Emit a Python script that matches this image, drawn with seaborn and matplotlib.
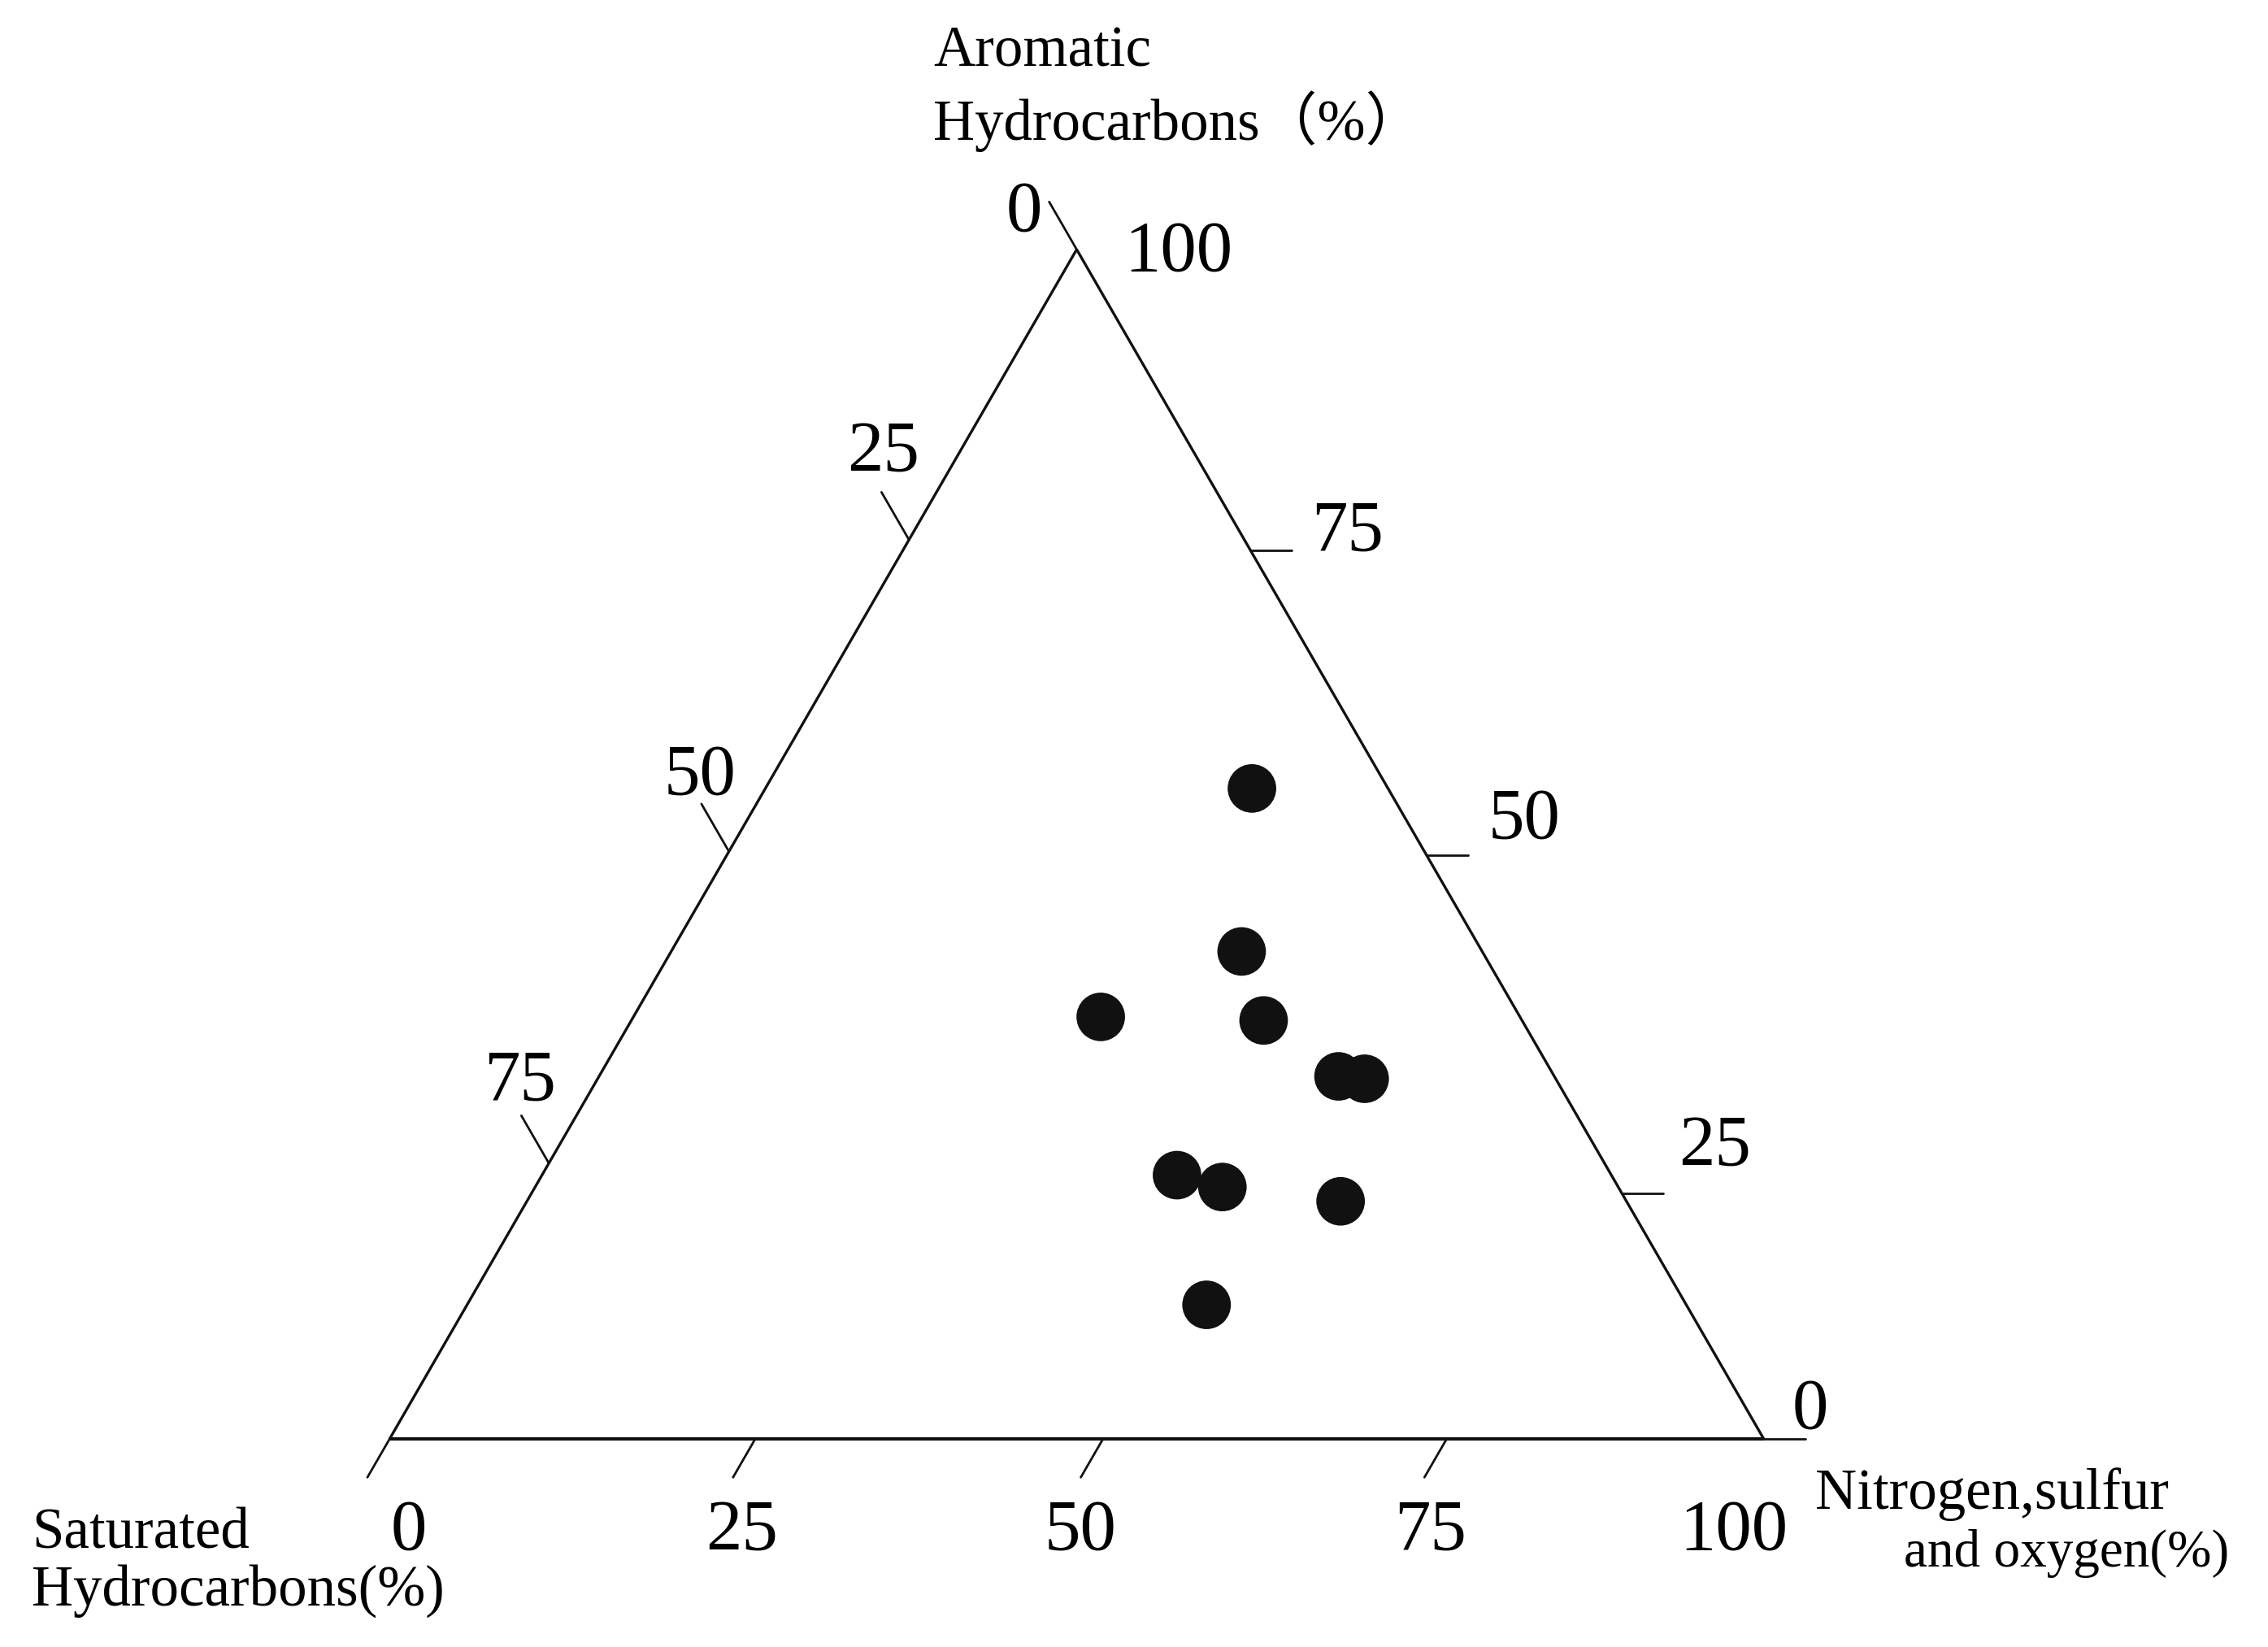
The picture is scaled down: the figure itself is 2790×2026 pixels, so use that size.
import numpy as np
import pandas as pd
import matplotlib
matplotlib.use("Agg")
import matplotlib.pyplot as plt
import seaborn as sns

# ---- data (percent) ----
saturated = [9.9, 17.5, 30.5, 18.8, 15.7, 13.9, 31.6, 28.8, 20.8, 34.9]
aromatic = [54.7, 41.0, 35.5, 35.2, 30.5, 30.3, 22.2, 21.2, 20.0, 11.3]
nso = [35.4, 41.5, 34.0, 46.0, 53.8, 55.8, 46.2, 50.0, 59.2, 53.8]

# tick marks as drawn in the reference (values along each side)
bottom_ticks = [0, 26.6, 51.9, 76.9]     # NSO
left_ticks = [0, 24.4, 50.6, 76.8]       # saturated
right_ticks = [0, 20.7, 49.1, 74.7]      # aromatic

bottom_labels = ["0", "25", "50", "75", "100"]
left_labels = ["0", "25", "50", "75"]
right_labels = ["100", "75", "50", "25", "0"]

title_top = ["Aromatic", "Hydrocarbons（%）"]
title_left = ["Saturated", "Hydrocarbons(%)"]
title_right = ["Nitrogen,sulfur", "and oxygen(%)"]

sns.set_theme(style="white")
plt.rcParams['font.family'] = ['Liberation Serif', 'Noto Sans CJK SC', 'DejaVu Sans']
plt.rcParams['text.color'] = 'black'

H = np.sqrt(3) / 2
INK = "#111111"


def tern(s, a, n):
    s, a, n = np.asarray(s, float), np.asarray(a, float), np.asarray(n, float)
    tot = s + a + n
    return (n + a / 2) / tot * 100, a * H / tot * 100


df = pd.DataFrame({"S": saturated, "A": aromatic, "N": nso})
df["x"], df["y"] = tern(df.S, df.A, df.N)

W, Hpx = 2790, 2026
fig = plt.figure(figsize=(W / 100, Hpx / 100), dpi=100)
ax = fig.add_axes([0, 0, 1, 1])
ax.set_xlim(-28.33, 136.67)
ax.set_ylim(-15.12, 104.76)
ax.axis("off")


def px(x, y):
    """pixel position (from top-left) -> figure fraction"""
    return x / W, 1 - y / Hpx


# triangle edges
BL = tern(100, 0, 0)
BR = tern(0, 0, 100)
TP = tern(0, 100, 0)
ax.plot([BL[0], BR[0]], [BL[1], BR[1]], color=INK, lw=3.0, solid_capstyle="butt")
ax.plot([BL[0], TP[0]], [BL[1], TP[1]], color=INK, lw=2.4, solid_capstyle="butt")
ax.plot([BR[0], TP[0]], [BR[1], TP[1]], color=INK, lw=2.4, solid_capstyle="butt")

# ticks
for v in bottom_ticks:   # on base, parallel to left edge, outward
    x0, y0 = tern(100 - v, 0, v)
    L = 3.2
    ax.plot([x0, x0 - 0.5 * L], [y0, y0 - H * L], color=INK, lw=2.0)
for v in left_ticks:     # on left edge, parallel to right edge, outward
    x0, y0 = tern(v, 100 - v, 0)
    L = 4.0
    ax.plot([x0, x0 - 0.5 * L], [y0, y0 + H * L], color=INK, lw=2.0)
for v in right_ticks:    # on right edge, horizontal, outward
    x0, y0 = tern(0, v, 100 - v)
    L = 3.0
    ax.plot([x0, x0 + L], [y0, y0], color=INK, lw=2.0)

# data points
sns.scatterplot(data=df, x="x", y="y", ax=ax, s=1850, color=INK,
                edgecolor="none", linewidth=0, legend=False, zorder=5)

# tick labels (pixel centres)
fs_tick = 64
bottom_pos = [(503, 1884), (913, 1884), (1329, 1884), (1760, 1884), (2133, 1884)]
for lab, (x, y) in zip(bottom_labels, bottom_pos):
    fig.text(*px(x, y), lab, ha="center", va="center", fontsize=fs_tick, color="black")

left_pos = [(1260, 262), (1087, 557), (861, 955), (640, 1331)]
for lab, (x, y) in zip(left_labels, left_pos):
    fig.text(*px(x, y), lab, ha="center", va="center", fontsize=fs_tick, color="black")

right_pos = [(1450, 311), (1658, 655), (1875, 1009), (2110, 1411), (2227, 1735)]
for lab, (x, y) in zip(right_labels, right_pos):
    fig.text(*px(x, y), lab, ha="center", va="center", fontsize=fs_tick, color="black")

# axis titles
fs_title = 51
fig.text(*px(1148, 82), title_top[0], ha="left", va="baseline", fontsize=fs_title, color="black")
fig.text(*px(1148, 172), title_top[1], ha="left", va="baseline", fontsize=fs_title, color="black")
fig.text(*px(39, 1904), title_left[0], ha="left", va="baseline", fontsize=fs_title, color="black")
fig.text(*px(39, 1975), title_left[1], ha="left", va="baseline", fontsize=fs_title, color="black")
fig.text(*px(2233, 1856), title_right[0], ha="left", va="baseline", fontsize=fs_title, color="black")
fig.text(*px(2742, 1927), title_right[1], ha="right", va="baseline", fontsize=47, color="black")

fig.savefig("out.png", dpi=100, facecolor="white")
